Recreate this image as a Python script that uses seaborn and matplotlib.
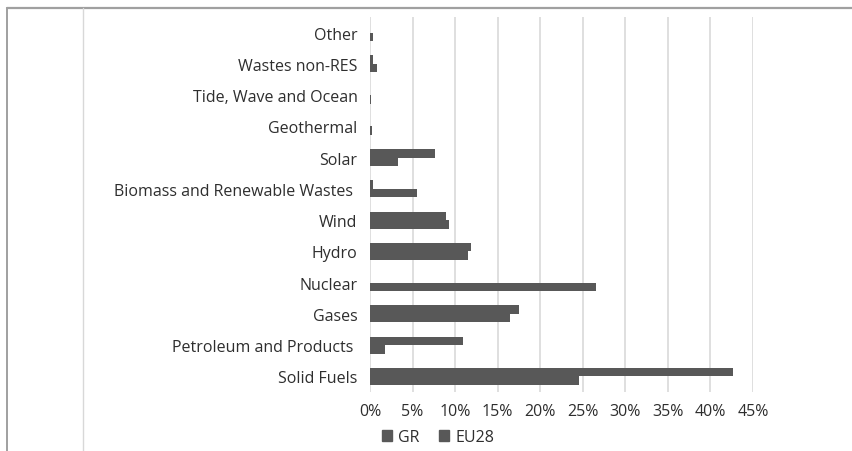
import matplotlib
matplotlib.use("Agg")
import matplotlib.pyplot as plt
from matplotlib.lines import Line2D
from matplotlib.patches import Patch
import seaborn as sns
import pandas as pd

# Electricity generation mix by fuel (% of total), top-to-bottom order
categories = [
    "Other",
    "Wastes non-RES",
    "Tide, Wave and Ocean",
    "Geothermal",
    "Solar",
    "Biomass and Renewable Wastes ",
    "Wind",
    "Hydro",
    "Nuclear",
    "Gases",
    "Petroleum and Products ",
    "Solid Fuels",
]
gr_share = [0.0, 0.3, 0.0, 0.0, 7.6, 0.4, 8.9, 11.9, 0.0, 17.5, 10.9, 42.7]
eu28_share = [0.3, 0.8, 0.1, 0.2, 3.3, 5.5, 9.3, 11.5, 26.5, 16.5, 1.8, 24.6]
series = ["GR", "EU28"]
tick_values = [0, 5, 10, 15, 20, 25, 30, 35, 40, 45]
tick_labels = ["0%", "5%", "10%", "15%", "20%", "25%", "30%", "35%", "40%", "45%"]

df = pd.DataFrame({
    "category": categories * 2,
    "share": gr_share + eu28_share,
    "series": [series[0]] * len(categories) + [series[1]] * len(categories),
})

sns.set_theme(style="white")
plt.rcParams["font.family"] = ["Open Sans", "DejaVu Sans"]

bar_color = "#585858"
text_color = "#2e2e2e"
fs = 11.5

fig = plt.figure(figsize=(8.52, 4.52), dpi=100)
ax = fig.add_axes([370 / 852, 1 - 393 / 452, (753 - 370) / 852, (393 - 18) / 452])

sns.barplot(
    data=df, x="share", y="category", hue="series",
    order=categories, hue_order=series,
    palette={"GR": bar_color, "EU28": bar_color},
    orient="h", width=0.54, gap=0.0, ax=ax,
    linewidth=0, legend=False,
)

ax.set_xlim(0, 45)
ax.set_xticks(tick_values)
ax.set_xticklabels(tick_labels, fontsize=fs, color=text_color)
ax.tick_params(axis="y", labelsize=fs, labelcolor=text_color, length=0, pad=9)
ax.tick_params(axis="x", length=0, pad=8)
ax.set_xlabel("")
ax.set_ylabel("")
ax.grid(axis="x", color="#d9d9d9", linewidth=1.2)
ax.set_axisbelow(True)
for s in ax.spines.values():
    s.set_visible(False)

handles = [Patch(facecolor=bar_color, edgecolor=bar_color, label=s) for s in series]
fig.legend(
    handles=handles, loc="center", bbox_to_anchor=(438 / 852, 1 - 438 / 452),
    ncol=2, frameon=False, fontsize=fs, handlelength=0.65, handleheight=0.65,
    handletextpad=0.4, columnspacing=1.2, labelcolor=text_color,
)

# Page frame around the chart
fig.add_artist(Line2D([7 / 852, 1], [1 - 9 / 452, 1 - 9 / 452], color="#a0a0a0", linewidth=1.6))
fig.add_artist(Line2D([7 / 852, 7 / 852], [0, 1 - 9 / 452], color="#a0a0a0", linewidth=1.4))
fig.add_artist(Line2D([83 / 852, 83 / 852], [0, 1 - 9 / 452], color="#d8d8d8", linewidth=1.0))

fig.savefig("out.png", dpi=100)
